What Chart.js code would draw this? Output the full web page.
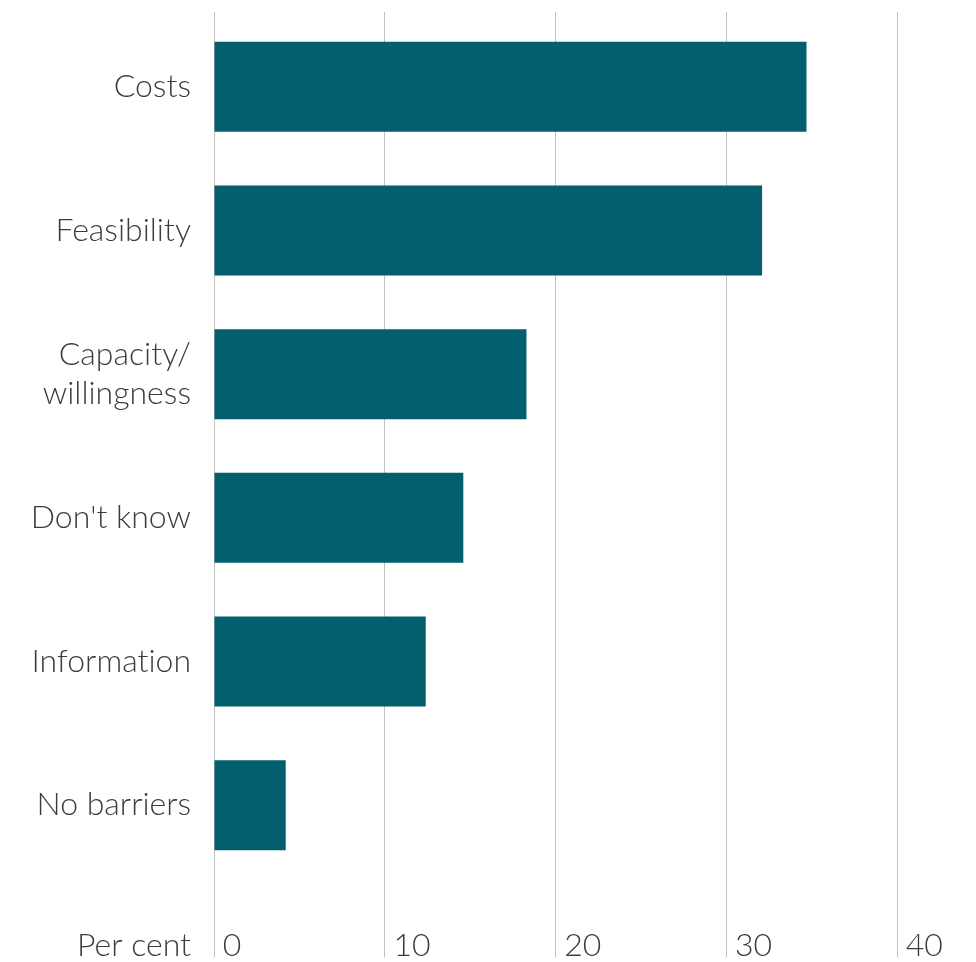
<!DOCTYPE html>
<html>
<head>
<meta charset="utf-8">
<script src="https://cdn.jsdelivr.net/npm/chart.js@4.4.1/dist/chart.umd.min.js"></script>
<style>
  html, body { margin: 0; padding: 0; background: #fff; }
  #barriers { display: block; }
</style>
</head>
<body>
<canvas id="barriers" width="976" height="962"></canvas>
<script>
// Reported barriers, per cent of respondents
// (zero-width non-joiner keeps Lato from drawing its "ti" ligature)
const categories = ['Costs', 'Feasibility', ['Capacity/', 'willingness'], "Don't know", 'Informat\u200Cion', 'No barriers'];
const shares = [34.7, 32.1, 18.3, 14.6, 12.4, 4.2];
const xTicks = [0, 10, 20, 30, 40];
const unitLabel = 'Per cent';

const TEAL = '#035e6e';
const GRID = '#c0c0c0';
const TEXT = '#3c3c3c';
const FONT = { family: 'Lato', size: 32, weight: 300, lineHeight: 1.2 };

const TICK_LEN = 80;
const TICK_PAD = -31;
const LABEL_PAD = 23;

// "Per cent" sits on the same line as the x tick labels, right-aligned with the category labels
const unitLabelPlugin = {
  id: 'unitLabel',
  afterDraw(chart) {
    const { ctx, scales } = chart;
    const y = scales.x.top + TICK_LEN + TICK_PAD + FONT.size * FONT.lineHeight / 2;
    ctx.save();
    ctx.font = `${FONT.weight} ${FONT.size}px ${FONT.family}`;
    ctx.fillStyle = TEXT;
    ctx.textAlign = 'right';
    ctx.textBaseline = 'middle';
    ctx.fillText(unitLabel, scales.y.right - LABEL_PAD, y);
    ctx.restore();
  }
};

new Chart(document.getElementById('barriers').getContext('2d'), {
  type: 'bar',
  data: {
    labels: categories,
    datasets: [{
      data: shares,
      backgroundColor: TEAL,
      borderWidth: 0,
      categoryPercentage: 1,
      barPercentage: 0.627
    }]
  },
  options: {
    indexAxis: 'y',
    responsive: false,
    animation: false,
    layout: { padding: { top: 12, right: 79, bottom: 0, left: 0 } },
    plugins: { legend: { display: false }, tooltip: { enabled: false } },
    scales: {
      y: {
        type: 'category',
        afterFit: s => {
          s.width = 214;
          s.paddingTop = 0;
          s.paddingBottom = 0;
        },
        grid: { display: false, drawTicks: false },
        border: { display: false },
        ticks: { color: TEXT, font: FONT, padding: LABEL_PAD }
      },
      x: {
        min: 0,
        max: 40,
        position: 'bottom',
        afterFit: s => {
          s.height = 85;
          s.paddingLeft = 0;
          s.paddingRight = 0;
        },
        afterBuildTicks: s => { s.ticks = xTicks.map(v => ({ value: v })); },
        grid: { color: GRID, lineWidth: 1, tickLength: TICK_LEN, tickColor: GRID },
        border: { display: false },
        ticks: {
          color: TEXT,
          font: FONT,
          padding: TICK_PAD,
          align: 'start',
          maxRotation: 0,
          callback: v => ' ' + v
        }
      },
      // only there to carry the grid lines a few pixels above the bars
      xTop: {
        axis: 'x',
        min: 0,
        max: 40,
        position: 'top',
        afterFit: s => {
          s.height = 3;
          s.paddingLeft = 0;
          s.paddingRight = 0;
        },
        afterBuildTicks: s => { s.ticks = xTicks.map(v => ({ value: v })); },
        grid: { drawOnChartArea: false, color: GRID, tickLength: 3, tickColor: GRID },
        border: { display: false },
        ticks: { display: false }
      }
    }
  },
  plugins: [unitLabelPlugin]
});
</script>
</body>
</html>
